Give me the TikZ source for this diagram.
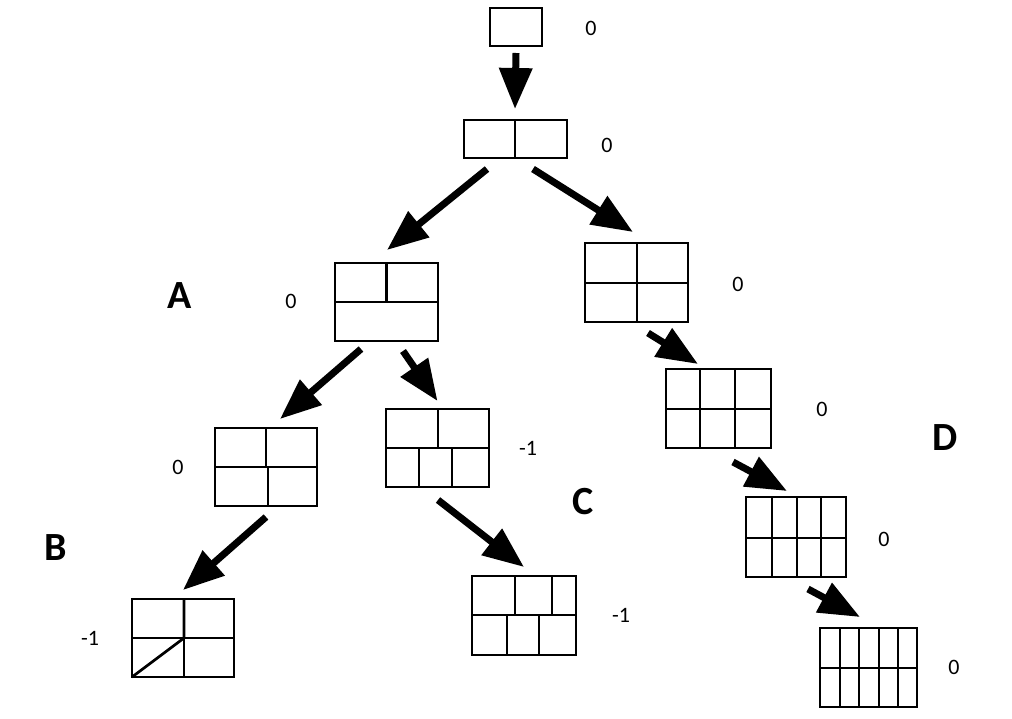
\documentclass[tikz,border=0pt]{standalone}
\usepackage{fontspec}
\setmainfont{Carlito}
\usetikzlibrary{arrows.meta}
\begin{document}
\begin{tikzpicture}[x=1pt,y=-1pt,
  box/.style={draw, line width=2pt, inner sep=0pt},
  cell/.style={line width=2pt},
  bold cell/.style={line width=2.7pt},
  arr/.style={line width=7pt, -{Triangle[length=41pt,width=32pt]}},
  val/.style={inner sep=0pt, font=\fontsize{22}{24}\selectfont},
  tag/.style={inner sep=0pt, font=\fontsize{40}{42}\selectfont\bfseries}]
\useasboundingbox (0,0) rectangle (1012,718);

% boxes
\node[box, minimum width=52, minimum height=38] (r) at (516,27) {};
\node[box, minimum width=103, minimum height=38] (b2) at (515,139) {};
\node[box, minimum width=103, minimum height=78] (a) at (386.5,302) {};
\node[box, minimum width=103, minimum height=79] (q) at (636.5,282.5) {};
\node[box, minimum width=102, minimum height=78] (p) at (266,467) {};
\node[box, minimum width=103, minimum height=78] (m) at (437.5,448) {};
\node[box, minimum width=102, minimum height=78] (b) at (183,638) {};
\node[box, minimum width=104, minimum height=79] (c) at (524,615.5) {};
\node[box, minimum width=105, minimum height=79] (s6) at (718.5,408.5) {};
\node[box, minimum width=100, minimum height=80] (s8) at (796,537) {};
\node[box, minimum width=97, minimum height=79] (s10) at (868.5,667.5) {};

% inner divisions
\draw[cell] (515,120) -- (515,158);
\draw[cell] (335,302) -- (438,302);
\draw[bold cell] (386.5,263) -- (386.5,302);
\draw[cell] (585,283) -- (688,283) (636.5,243) -- (636.5,322);
\draw[cell] (215,467) -- (317,467) (266,428) -- (266,467) (267.5,467) -- (267.5,506);
\draw[cell] (386,448) -- (489,448) (438,409) -- (438,448)
            (419,448) -- (419,487) (452,448) -- (452,487);
\draw[cell] (132,638) -- (234,638) (184,638) -- (184,677);
\draw[bold cell] (184,599) -- (184,638) (132,677) -- (184,638);
\draw[cell] (472,615) -- (576,615) (552,576) -- (552,615)
            (507,615) -- (507,655) (539,615) -- (539,655);
\draw[bold cell] (515,576) -- (515,615);
\draw[cell] (666,409) -- (771,409) (700,369) -- (700,448) (735,369) -- (735,448);
\draw[cell] (772,497) -- (772,577) (797,497) -- (797,577);
\draw[bold cell] (746,538) -- (846,538) (821,497) -- (821,577);
\draw[cell] (859,628) -- (859,707) (879,628) -- (879,707);
\draw[bold cell] (820,668) -- (917,668) (840,628) -- (840,707) (898,628) -- (898,707);

% arrows (yshift is measured upwards on the page)
\draw[arr] ([yshift=-6pt]r.south) -- ([yshift=10pt]b2.north);
\draw[arr] ([xshift=-28pt,yshift=-10pt]b2.south) -- ([xshift=0.5pt,yshift=12pt]a.north);
\draw[arr] ([xshift=18pt,yshift=-10pt]b2.south) -- ([xshift=-3.5pt,yshift=10pt]q.north);
\draw[arr] ([xshift=-25.5pt,yshift=-7pt]a.south) -- ([xshift=14pt,yshift=8pt]p.north);
\draw[arr] ([xshift=16.5pt,yshift=-9pt]a.south) -- ([yshift=7pt]m.north);
\draw[arr] ([yshift=-10pt]p.south) -- ([yshift=8pt]b.north);
\draw[arr] ([xshift=0.5pt,yshift=-12pt]m.south) -- ([yshift=8pt]c.north);
\draw[arr] ([xshift=11.5pt,yshift=-10pt]q.south) -- ([xshift=-20.5pt,yshift=4pt]s6.north);
\draw[arr] ([xshift=14.5pt,yshift=-13pt]s6.south) -- ([xshift=-9pt,yshift=5pt]s8.north);
\draw[arr] ([xshift=12pt,yshift=-11pt]s8.south) -- ([xshift=-8.5pt,yshift=10pt]s10.north);

% values
\node[val] (v1) at (591,28) {0};
\node[val] (v2) at (607,145) {0};
\node[val] (v3) at (291,301) {0};
\node[val] (v4) at (738,284) {0};
\node[val] (v5) at (178,467) {0};
\node[val] (v6) at (528,448) {-1};
\node[val] (v7) at (90,638) {-1};
\node[val] (v8) at (621,615) {-1};
\node[val] (v9) at (822,409) {0};
\node[val] (v10) at (884,539) {0};
\node[val] (v11) at (954,667) {0};

% letters
\node[tag] (la) at (180,296) {A};
\node[tag] (lb) at (56,548) {B};
\node[tag] (lc) at (583,502) {C};
\node[tag] (ld) at (945,438) {D};
\end{tikzpicture}
\end{document}
